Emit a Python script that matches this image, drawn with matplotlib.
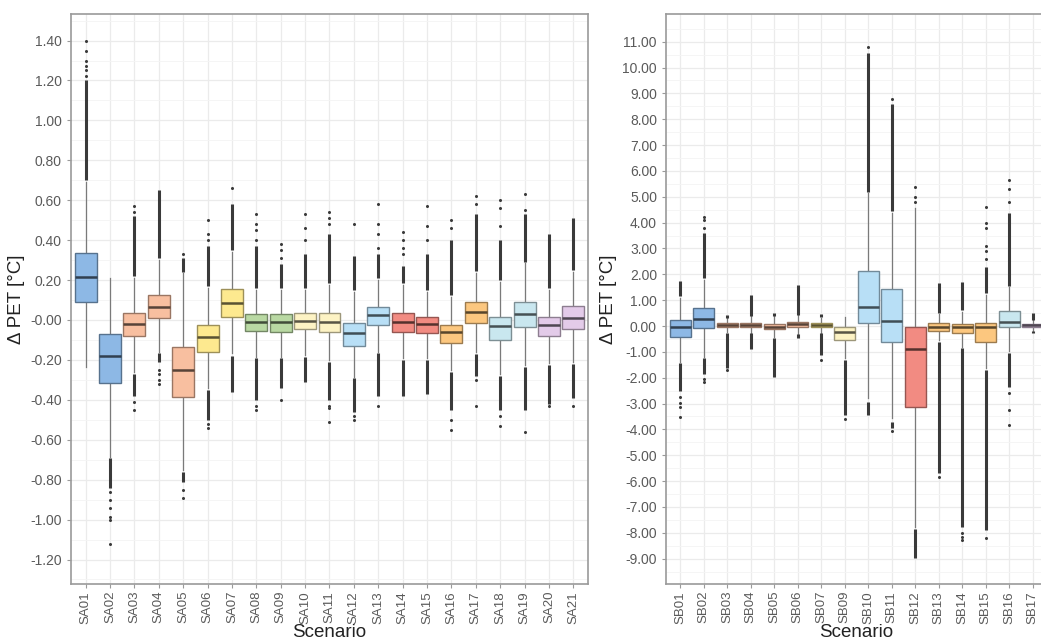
import matplotlib
matplotlib.use("Agg")
import matplotlib.pyplot as plt
import matplotlib.colors as mcolors
import numpy as np

plt.rcParams['font.family'] = ['Liberation Sans', 'DejaVu Sans']

# ---- scenario group A ----
sa_labels = ['SA01', 'SA02', 'SA03', 'SA04', 'SA05', 'SA06', 'SA07', 'SA08', 'SA09', 'SA10', 'SA11',
             'SA12', 'SA13', 'SA14', 'SA15', 'SA16', 'SA17', 'SA18', 'SA19', 'SA20', 'SA21']
sa_q1 = [0.092, -0.314, -0.080, 0.008, -0.384, -0.159, 0.017, -0.053, -0.058, -0.047, -0.059,
         -0.129, -0.025, -0.062, -0.067, -0.114, -0.013, -0.100, -0.037, -0.080, -0.043]
sa_med = [0.217, -0.180, -0.020, 0.064, -0.250, -0.083, 0.083, -0.008, -0.008, -0.003, -0.008,
          -0.067, 0.025, -0.008, -0.020, -0.062, 0.042, -0.030, 0.030, -0.027, 0.012]
sa_q3 = [0.334, -0.072, 0.037, 0.125, -0.134, -0.025, 0.154, 0.030, 0.030, 0.033, 0.037,
         -0.017, 0.067, 0.033, 0.017, -0.025, 0.092, 0.017, 0.092, 0.013, 0.070]
sa_lo = [-0.234, -0.685, -0.259, -0.159, -0.751, -0.342, -0.167, -0.184, -0.184, -0.175, -0.200,
         -0.284, -0.159, -0.192, -0.192, -0.250, -0.159, -0.271, -0.225, -0.217, -0.209]
sa_hi = [0.693, 0.209, 0.209, 0.300, 0.234, 0.159, 0.342, 0.150, 0.150, 0.150, 0.175,
         0.140, 0.200, 0.175, 0.140, 0.117, 0.234, 0.192, 0.284, 0.150, 0.242]
# dense outlier runs (upper, lower); None = no run
sa_dense_hi = [(0.70, 1.20), None, (0.22, 0.52), (0.31, 0.65), (0.24, 0.31), (0.17, 0.37), (0.35, 0.58),
               (0.16, 0.37), (0.16, 0.28), (0.16, 0.33), (0.185, 0.43), (0.15, 0.32), (0.21, 0.33),
               (0.185, 0.27), (0.15, 0.33), (0.125, 0.40), (0.245, 0.53), (0.20, 0.40), (0.29, 0.53),
               (0.16, 0.43), (0.25, 0.51)]
sa_dense_lo = [None, (-0.84, -0.69), (-0.38, -0.27), (-0.21, -0.165), (-0.81, -0.76), (-0.50, -0.35),
               (-0.36, -0.18), (-0.40, -0.19), (-0.34, -0.19), (-0.31, -0.185), (-0.40, -0.21),
               (-0.46, -0.29), (-0.38, -0.165), (-0.38, -0.20), (-0.37, -0.20), (-0.45, -0.26),
               (-0.28, -0.17), (-0.45, -0.28), (-0.45, -0.235), (-0.42, -0.225), (-0.39, -0.22)]
sa_sparse = [[1.22, 1.25, 1.27, 1.30, 1.35, 1.40],
             [-0.86, -0.90, -0.94, -0.985, -1.00, -1.12],
             [0.54, 0.57, -0.41, -0.45],
             [-0.25, -0.27, -0.30, -0.32],
             [0.33, -0.85, -0.89],
             [0.40, 0.43, 0.50, -0.52, -0.54],
             [0.66],
             [0.40, 0.45, 0.48, 0.53, -0.43, -0.45],
             [0.31, 0.35, 0.38, -0.40],
             [0.40, 0.46, 0.53],
             [0.48, 0.51, 0.54, -0.43, -0.44, -0.51],
             [0.48, -0.48, -0.50],
             [0.36, 0.43, 0.48, 0.58, -0.43],
             [0.33, 0.36, 0.40, 0.44],
             [0.40, 0.47, 0.57],
             [0.46, 0.50, -0.50, -0.55],
             [0.58, 0.62, -0.30, -0.43],
             [0.47, 0.56, 0.60, -0.48, -0.53],
             [0.55, 0.63, -0.56],
             [-0.43],
             [-0.43]]
sa_colors = ['#8db8e5', '#8db8e5', '#f8bfa0', '#f8bfa0', '#f8bfa0', '#fde98f', '#fde98f',
             '#b9d9a3', '#b9d9a3', '#fdf3c4', '#fdf3c4', '#b8dff6', '#b8dff6', '#f28b82',
             '#f28b82', '#fcc77f', '#fcc77f', '#c9e7ef', '#c9e7ef', '#e3cbe9', '#e3cbe9']

# ---- scenario group B ----
sb_labels = ['SB01', 'SB02', 'SB03', 'SB04', 'SB05', 'SB06', 'SB07', 'SB09', 'SB10', 'SB11',
             'SB12', 'SB13', 'SB14', 'SB15', 'SB16', 'SB17']
sb_q1 = [-0.44, -0.09, -0.05, -0.03, -0.13, -0.03, -0.05, -0.54, 0.13, -0.61,
         -3.15, -0.18, -0.28, -0.61, -0.03, -0.03]
sb_med = [-0.05, 0.27, 0.04, 0.05, -0.03, 0.08, 0.04, -0.22, 0.72, 0.21,
          -0.90, -0.03, -0.05, -0.03, 0.17, 0.04]
sb_q3 = [0.23, 0.68, 0.10, 0.13, 0.08, 0.15, 0.10, -0.05, 2.14, 1.42,
         -0.03, 0.10, 0.08, 0.13, 0.59, 0.08]
sb_lo = [-1.38, -1.19, -0.25, -0.27, -0.43, -0.29, -0.27, -1.25, -2.80, -3.55,
         -7.76, -0.55, -0.80, -1.64, -0.95, -0.19]
sb_hi = [1.10, 1.78, 0.30, 0.37, 0.38, 0.42, 0.32, 0.36, 5.13, 4.36,
         4.55, 0.45, 0.55, 1.20, 1.50, 0.24]
sb_dense_hi = [(1.15, 1.75), (1.85, 3.60), (0.32, 0.43), (0.38, 1.20), (0.39, 0.49), (0.43, 1.59),
               (0.33, 0.46), None, (5.20, 10.55), (4.45, 8.60), None, (0.52, 1.65), (0.63, 1.70),
               (1.27, 2.29), (1.55, 4.36), (0.25, 0.49)]
sb_dense_lo = [(-2.50, -1.45), (-1.85, -1.25), (-1.64, -0.28), (-0.88, -0.28), (-1.96, -0.45),
               (-0.46, -0.30), (-1.12, -0.28), (-3.44, -1.30), (-3.45, -2.95), (-3.95, -3.70),
               (-8.99, -7.85), (-5.70, -0.60), (-7.76, -0.85), (-7.89, -1.70), (-2.35, -1.06),
               (-0.28, -0.20)]
sb_sparse = [[-2.73, -2.99, -3.12, -3.51],
             [3.80, 4.10, 4.20, -2.05, -2.15],
             [-1.71],
             [],
             [],
             [],
             [-1.30],
             [-3.61],
             [10.80],
             [8.80, -4.05],
             [4.81, 5.00, 5.36],
             [-5.83],
             [-8.00, -8.15, -8.28],
             [2.60, 2.90, 3.10, 3.80, 4.00, 4.60, -8.21],
             [4.80, 5.30, 5.65, -2.60, -3.25, -3.83],
             []]
sb_colors = ['#8db8e5', '#8db8e5', '#f8bfa0', '#f8bfa0', '#f8bfa0', '#f8bfa0', '#fde98f',
             '#fdf3c4', '#b8dff6', '#b8dff6', '#f28b82', '#fcc77f', '#fcc77f', '#fcc77f',
             '#c9e7ef', '#e3cbe9']


def shade(c, k):
    r, g, b = mcolors.to_rgb(c)
    return (r * k, g * k, b * k)


def draw_panel(ax, labels, q1, med, q3, lo, hi, dense_hi, dense_lo, sparse, colors,
               ylim, yticks, yminor):
    n = len(labels)
    pos = np.arange(1, n + 1)
    ax.set_xlim(0.4, n + 0.6)
    ax.set_ylim(*ylim)
    ax.set_yticks(yticks)
    ax.set_yticks(yminor, minor=True)
    ax.set_yticklabels(['%.2f' % t for t in yticks])
    ax.set_xticks(pos)
    ax.set_xticklabels(labels, rotation=90)
    ax.grid(True, which='major', color='#ebebeb', lw=0.9, zorder=0)
    ax.grid(True, which='minor', axis='y', color='#f4f4f4', lw=0.6, zorder=0)
    ax.set_axisbelow(True)

    # dense outlier runs and single outliers
    for i in range(n):
        for run in (dense_hi[i], dense_lo[i]):
            if run is not None:
                ax.vlines(pos[i], run[0], run[1], color='#3a3a3a', lw=2.2, zorder=2)
        if sparse[i]:
            ax.plot([pos[i]] * len(sparse[i]), sparse[i], 'o', ms=2.2, color='#3a3a3a',
                    mec='none', zorder=2)

    stats = []
    for i in range(n):
        stats.append(dict(q1=q1[i], med=med[i], q3=q3[i], whislo=lo[i], whishi=hi[i], fliers=[]))
    bp = ax.bxp(stats, positions=pos, widths=0.9, patch_artist=True, showfliers=False,
                showcaps=False, manage_ticks=False,
                whiskerprops=dict(color='#7a7a7a', lw=0.9),
                medianprops=dict(lw=1.8))
    for i, box in enumerate(bp['boxes']):
        box.set_facecolor(colors[i])
        box.set_edgecolor(shade(colors[i], 0.62))
        box.set_linewidth(1.0)
        box.set_zorder(3)
        bp['medians'][i].set_color(shade(colors[i], 0.35))
        bp['medians'][i].set_zorder(4)
    for w in bp['whiskers']:
        w.set_zorder(1.5)

    for s in ax.spines.values():
        s.set_color('#9a9a9a')
        s.set_linewidth(1.2)
    ax.tick_params(axis='both', which='major', colors='#9a9a9a', length=3, width=0.8,
                   labelcolor='#5a5a5a', labelsize=10)
    ax.tick_params(axis='x', which='major', labelsize=9.5, pad=2)
    ax.tick_params(axis='both', which='minor', length=0)
    ax.set_xlabel('Scenario', fontsize=13.5, color='#222222', labelpad=0)
    ax.set_ylabel('Δ PET [°C]', fontsize=13.5, color='#222222', labelpad=4)


fig = plt.figure(figsize=(10.41, 6.44), dpi=100)
ax1 = fig.add_axes([71 / 1041, 60 / 644, 517 / 1041, 570 / 644])
ax2 = fig.add_axes([666 / 1041, 60 / 644, 381 / 1041, 570 / 644])

draw_panel(ax1, sa_labels, sa_q1, sa_med, sa_q3, sa_lo, sa_hi, sa_dense_hi, sa_dense_lo,
           sa_sparse, sa_colors, (-1.3226, 1.533),
           np.round(np.arange(-1.2, 1.41, 0.2), 2), np.round(np.arange(-1.3, 1.51, 0.2), 2))
draw_panel(ax2, sb_labels, sb_q1, sb_med, sb_q3, sb_lo, sb_hi, sb_dense_hi, sb_dense_lo,
           sb_sparse, sb_colors, (-9.98, 12.07),
           np.arange(-9.0, 11.01, 1.0), np.arange(-9.5, 11.6, 1.0))

fig.savefig('out.png', dpi=100)
